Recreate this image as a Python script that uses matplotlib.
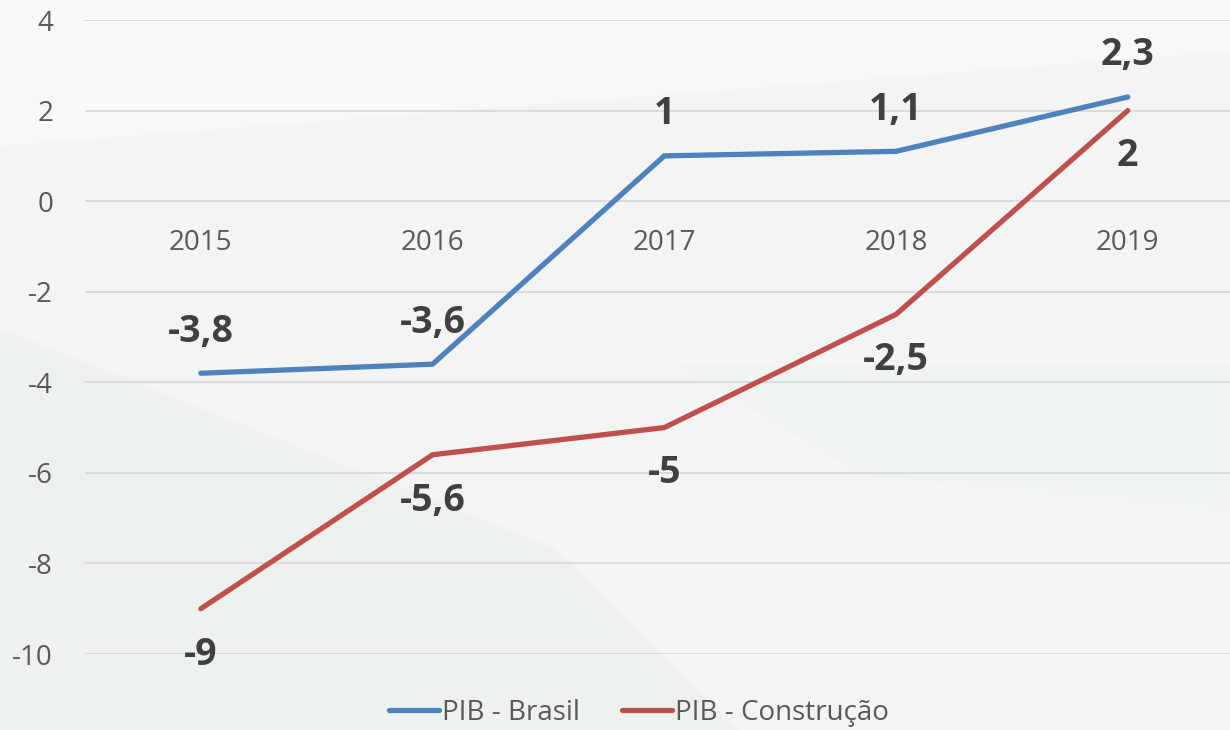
import matplotlib.pyplot as plt
from matplotlib.patches import Polygon
import numpy as np

# data
years = ['2015', '2016', '2017', '2018', '2019']
pib_brasil = [-3.8, -3.6, 1.0, 1.1, 2.3]
pib_construcao = [-9.0, -5.6, -5.0, -2.5, 2.0]
labels_brasil = ['-3,8', '-3,6', '1', '1,1', '2,3']
labels_construcao = ['-9', '-5,6', '-5', '-2,5', '2']

blue = '#4F81BD'
red = '#C0504D'
plt.rcParams['font.family'] = ['Open Sans', 'DejaVu Sans']
plt.rcParams['axes.unicode_minus'] = False

fig = plt.figure(figsize=(12.3, 7.3), dpi=100)
fig.patch.set_facecolor('#f3f5f4')

# faint background shapes
bg = fig.add_axes([0, 0, 1, 1], zorder=-10)
bg.set_xlim(0, 1)
bg.set_ylim(0, 1)
bg.axis('off')
bg.add_patch(Polygon([[0, 1], [1, 1], [1, 0.93], [0, 0.80]], closed=True, color='#f7f8f8', lw=0))
bg.add_patch(Polygon([[0, 0.55], [0.45, 0.25], [0.6, 0], [0, 0]], closed=True, color='#eef2ef', lw=0))
bg.add_patch(Polygon([[0.55, 0.5], [1, 0.5], [1, 0.3], [0.7, 0.35]], closed=True, color='#eff4f0', lw=0))

ax = fig.add_axes([0.0691, 0.1041, 0.942, 0.8685])
ax.patch.set_alpha(0)
x = np.arange(len(years))

ax.plot(x, pib_brasil, color=blue, lw=3.8, solid_capstyle='round', solid_joinstyle='round', label='PIB - Brasil')
ax.plot(x, pib_construcao, color=red, lw=3.8, solid_capstyle='round', solid_joinstyle='round', label='PIB - Construção')

for i in range(len(years)):
    ax.annotate(labels_brasil[i], (x[i], pib_brasil[i]), xytext=(0, 30), textcoords='offset points',
                ha='center', va='center', fontsize=27, fontweight='bold', color='#404040')
    ax.annotate(labels_construcao[i], (x[i], pib_construcao[i]), xytext=(0, -33), textcoords='offset points',
                ha='center', va='center', fontsize=27, fontweight='bold', color='#404040')

ax.set_xlim(-0.5, len(years) - 0.5)
ax.set_ylim(-10, 4)
ax.set_yticks(np.arange(-10, 5, 2))
ax.grid(axis='y', color='#d9d9d9', lw=1.3)
ax.set_axisbelow(True)
for s in ax.spines.values():
    s.set_visible(False)
ax.spines['bottom'].set_position(('data', 0))
ax.set_xticks(x)
ax.set_xticklabels(years)
ax.tick_params(axis='x', length=0, pad=20, labelsize=20, labelcolor='#595959')
ax.tick_params(axis='y', length=0, pad=23, labelsize=20, labelcolor='#595959')

ax.legend(loc='center', bbox_to_anchor=(0.478, -0.093), ncol=2, frameon=False, fontsize=20,
          labelcolor='#595959', handlelength=1.8, handletextpad=0.1, columnspacing=1.5)

fig.savefig('out.png', dpi=100, facecolor=fig.get_facecolor())
